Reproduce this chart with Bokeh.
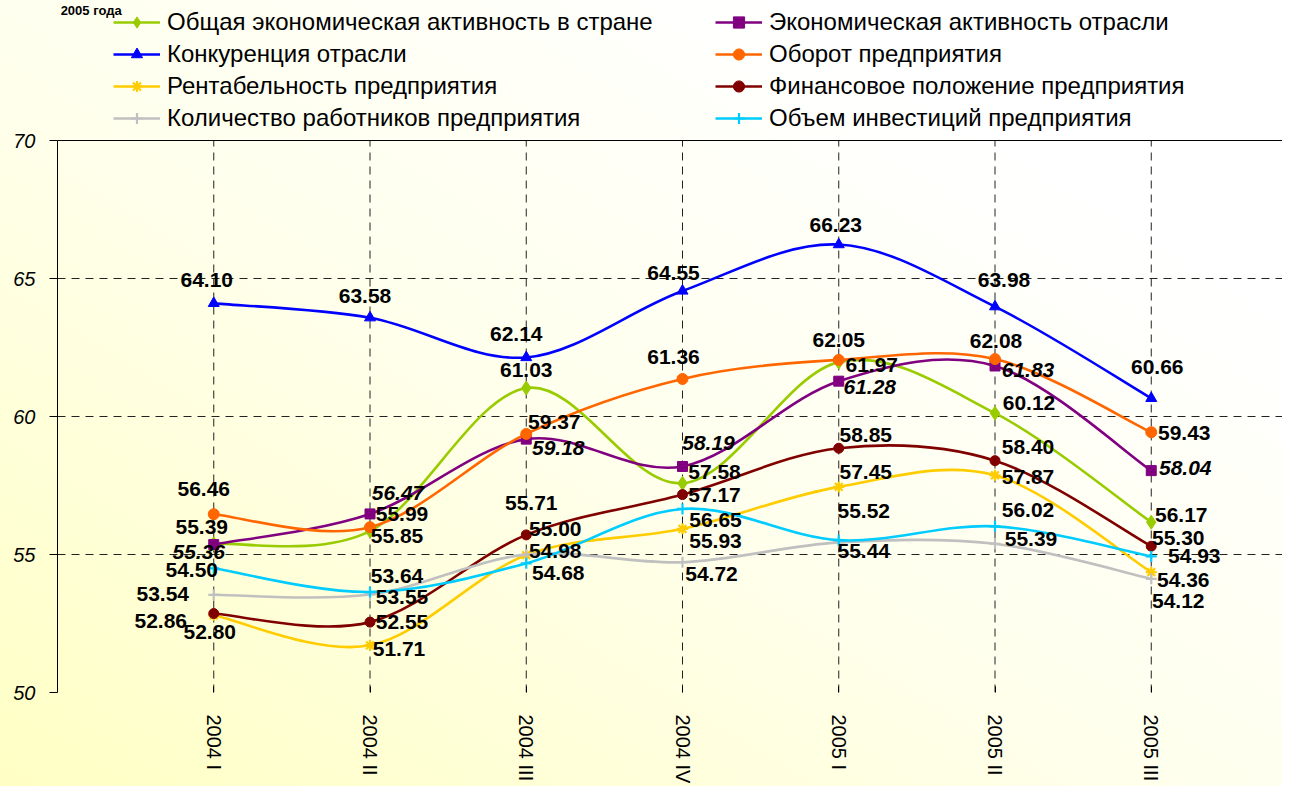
import numpy as np
from bokeh.plotting import figure
from bokeh.models import (ColumnDataSource, FixedTicker, Legend, LegendItem, Span,
                          Label, Range1d)
from bokeh.core.properties import value
from bokeh.embed import file_html
from bokeh.resources import INLINE

# ---------------- data ----------------
categories = ["2004 I", "2004 II", "2004 III", "2004 IV", "2005 I", "2005 II", "2005 III"]
y_ticks = [50, 55, 60, 65, 70]
chart_title = "2005 года"

obshchaya_aktivnost = [55.39, 55.85, 61.03, 57.58, 61.97, 60.12, 56.17]
aktivnost_otrasli = [55.36, 56.47, 59.18, 58.19, 61.28, 61.83, 58.04]
konkurentsiya = [64.10, 63.58, 62.14, 64.55, 66.23, 63.98, 60.66]
oborot = [56.46, 55.99, 59.37, 61.36, 62.05, 62.08, 59.43]
rentabelnost = [52.80, 51.71, 54.98, 55.93, 57.45, 57.87, 54.36]
finansy = [52.86, 52.55, 55.71, 57.17, 58.85, 58.40, 55.30]
rabotniki = [53.54, 53.55, 55.00, 54.72, 55.44, 55.39, 54.12]
investitsii = [54.50, 53.64, 54.68, 56.65, 55.52, 56.02, 54.93]

series_names = [
    "Общая экономическая активность в стране",
    "Экономическая активность отрасли",
    "Конкуренция отрасли",
    "Оборот предприятия",
    "Рентабельность предприятия",
    "Финансовое положение предприятия",
    "Количество работников предприятия",
    "Объем инвестиций предприятия",
]
series_values = [obshchaya_aktivnost, aktivnost_otrasli, konkurentsiya, oborot,
                 rentabelnost, finansy, rabotniki, investitsii]

# ---------------- styles ----------------
colors = ["#99CC00", "#800080", "#0000FF", "#FF6600", "#FFCC00", "#800000", "#C0C0C0", "#00CCFF"]
markers = ["diamond", "square", "triangle", "circle", "asterisk", "circle", "cross", "cross"]
marker_sizes = [14, 10, 11, 11, 11, 10, 11, 11]
label_styles = ["bold", "bold italic", "bold", "bold", "bold", "bold", "bold", "bold"]

# data-label pixel offsets (dx, dy) per series / point
label_dx = [
    [-12, 27, 0, 32, 33, 34, 30],
    [-15, 28, 32, 26, 31, 33, 34],
    [-7, -5, -10, -9, -3, 9, 6],
    [-10, 32, 28, -9, 0, 1, 33],
    [-4, 29, 29, 33, 27, 33, 32],
    [-53, 32, 5, 32, 27, 33, 27],
    [-51, 32, 29, 29, 25, 36, 27],
    [-22, 27, 32, 33, 25, 33, 43],
]
label_dy = [
    [-17, 5, -18, -11, 3, -10, -7],
    [7, -21, 9, -23, 6, 4, -3],
    [-23, -22, -23, -18, -20, -27, -31],
    [-25, -13, -12, -22, -20, -18, 1],
    [17, 4, -4, 12, -15, 2, 8],
    [7, 0, -32, 0, -13, -14, -8],
    [-1, 2, -26, 12, 9, -5, 22],
    [2, -16, 10, 11, -29, -16, 0],
]

FONT = "Liberation Sans"
PX_PER_UNIT_Y = 27.6   # layout: 552 px for 20 units
FRAME_TOP_GAP = 140    # px between canvas top and the 70 line (legend area)
LINE_W = 2.6

p = figure(width=1282, height=786, output_backend="svg", toolbar_location=None,
           title=None,
           x_range=Range1d(-1, 6.84),
           y_range=Range1d(y_ticks[0], y_ticks[-1] + FRAME_TOP_GAP / PX_PER_UNIT_Y),
           min_border_left=57, min_border_right=0, min_border_top=0, min_border_bottom=94,
           border_fill_color=None, background_fill_color=None, outline_line_color=None)
p.styles = {"background": "linear-gradient(to top right, #FFFFC4 0%, #FFFFEC 45%, #FFFFFF 80%)"}

# y axis
p.yaxis.ticker = FixedTicker(ticks=y_ticks)
p.yaxis.bounds = (y_ticks[0], y_ticks[-1])
p.yaxis.axis_line_color = "black"
p.yaxis.major_tick_out = 8
p.yaxis.major_tick_in = 0
p.yaxis.minor_tick_line_color = None
p.yaxis.major_tick_line_color = "black"
p.yaxis.major_label_text_font = FONT
p.yaxis.major_label_text_font_size = "20px"
p.yaxis.major_label_text_font_style = "italic"
p.yaxis.major_label_text_color = "black"
p.yaxis.major_label_standoff = 14

# x axis
xs = list(range(len(categories)))
p.xaxis.ticker = FixedTicker(ticks=xs)
p.xaxis.major_label_overrides = {i: c for i, c in enumerate(categories)}
p.xaxis.major_label_orientation = "vertical"
p.xaxis.axis_line_color = None
p.xaxis.major_tick_in = 6
p.xaxis.major_tick_out = 0
p.xaxis.minor_tick_line_color = None
p.xaxis.major_tick_line_color = "black"
p.xaxis.major_label_text_font = FONT
p.xaxis.major_label_text_font_size = "20px"
p.xaxis.major_label_text_color = "black"
p.xaxis.major_label_standoff = 22

# grids
p.xgrid.visible = False
p.ygrid.ticker = FixedTicker(ticks=y_ticks)
p.ygrid.grid_line_color = "#222222"
p.ygrid.grid_line_dash = "8 6"
p.ygrid.grid_line_width = 1
# vertical dashed grid lines only over the value range
p.segment(x0=xs, y0=[y_ticks[0]] * len(xs), x1=xs, y1=[y_ticks[-1]] * len(xs),
          line_color="#222222", line_dash="8 6", line_width=1)

p.add_layout(Span(location=y_ticks[-1], dimension="width", line_color="black", line_width=1.2))


def smooth_segments(xv, yv):
    x = np.asarray(xv, dtype=float)
    y = np.asarray(yv, dtype=float)
    n = len(x)
    xp = np.concatenate([[x[0]], x, [x[-1]]])
    yp = np.concatenate([[y[0]], y, [y[-1]]])
    x0, y0 = xp[1:n], yp[1:n]
    x1, y1 = xp[2:n + 1], yp[2:n + 1]
    cx0 = x0 + (xp[2:n + 1] - xp[0:n - 1]) / 6.0
    cy0 = y0 + (yp[2:n + 1] - yp[0:n - 1]) / 6.0
    cx1 = x1 - (xp[3:n + 2] - xp[1:n]) / 6.0
    cy1 = y1 - (yp[3:n + 2] - yp[1:n]) / 6.0
    return dict(x0=x0, y0=y0, x1=x1, y1=y1, cx0=cx0, cy0=cy0, cx1=cx1, cy1=cy1)


legend_items = []
text_specs = []
for i, (name, vals) in enumerate(zip(series_names, series_values)):
    col = colors[i]
    seg = ColumnDataSource(smooth_segments(xs, vals))
    p.bezier(x0="x0", y0="y0", x1="x1", y1="y1", cx0="cx0", cy0="cy0", cx1="cx1", cy1="cy1",
             source=seg, line_color=col, line_width=LINE_W)
    src = ColumnDataSource(dict(x=xs, y=vals, label=[f"{v:.2f}" for v in vals],
                                dx=label_dx[i], dy=label_dy[i]))
    # hidden line renderer used only for the legend swatch
    line_r = p.line(x="x", y="y", source=src, line_color=col, line_width=LINE_W)
    line_r.visible = False
    m = markers[i]
    if m in ("asterisk", "cross"):
        sc = p.scatter(x="x", y="y", source=src, marker=m, size=marker_sizes[i],
                       line_color=col, line_width=2.2, fill_color=col)
    else:
        sc = p.scatter(x="x", y="y", source=src, marker=m, size=marker_sizes[i],
                       line_color=col, fill_color=col, line_width=1)
    legend_items.append(LegendItem(label=name, renderers=[line_r, sc]))
    text_specs.append((src, label_styles[i]))

for src, style in text_specs:
    p.text(x="x", y="y", text="label", source=src, x_offset="dx", y_offset="dy",
           text_font=value(FONT), text_font_size="21px", text_font_style=style,
           text_color="black", text_align="center", text_baseline="middle")


def make_legend(items, loc):
    return Legend(items=items, location=loc, orientation="vertical",
                  glyph_width=47, glyph_height=28, label_height=28, label_standoff=7,
                  label_text_font=FONT, label_text_font_size="24px", label_text_color="black",
                  spacing=4, padding=0, margin=0, border_line_color=None,
                  background_fill_alpha=0, click_policy="none",
                  inactive_fill_alpha=0)


p.add_layout(make_legend(legend_items[0::2], (56, 560)), "center")
p.add_layout(make_legend(legend_items[1::2], (658, 560)), "center")

p.add_layout(Label(x=-0.98, y=y_ticks[-1] + (FRAME_TOP_GAP - 2) / PX_PER_UNIT_Y,
                   text=chart_title, text_font=FONT, text_font_size="13px",
                   text_font_style="bold", text_color="black",
                   text_align="left", text_baseline="top"))

open("out.html", "w").write(file_html(p, INLINE))
